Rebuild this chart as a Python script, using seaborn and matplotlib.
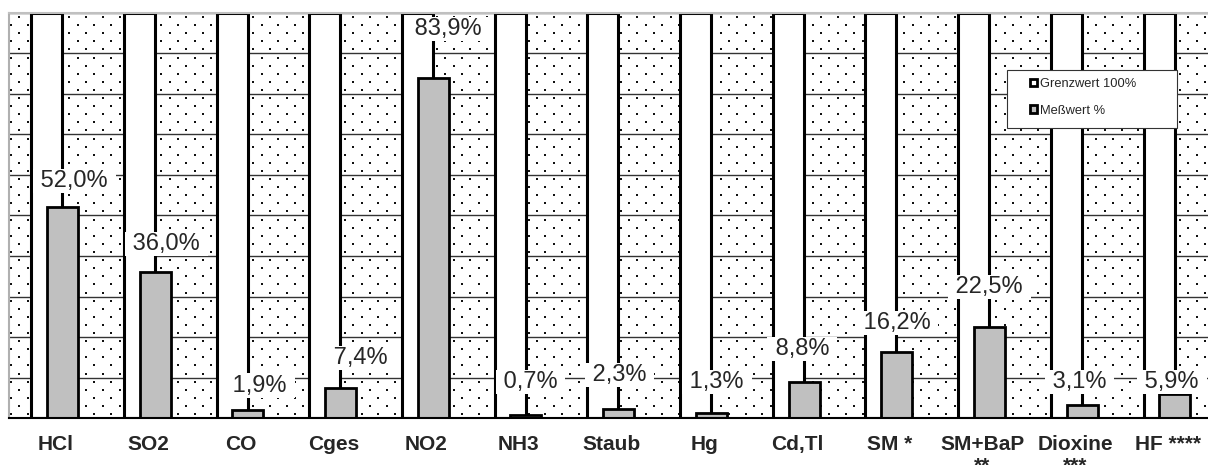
import numpy as np
import pandas as pd
import matplotlib.pyplot as plt
from matplotlib.patches import Patch, Rectangle
import seaborn as sns

# --- Data ---
categories = ["HCl", "SO2", "CO", "Cges", "NO2", "NH3", "Staub", "Hg",
              "Cd,Tl", "SM *", "SM+BaP\n**", "Dioxine\n***", "HF ****"]
grenzwert = [100, 100, 100, 100, 100, 100, 100, 100, 100, 100, 100, 100, 100]
messwert = [52.0, 36.0, 1.9, 7.4, 83.9, 0.7, 2.3, 1.3, 8.8, 16.2, 22.5, 3.1, 5.9]

# label placement (manually nudged in the original)
label_y = [58.5, 43.0, 8.0, 14.8, 96.0, 8.9, 10.6, 8.9, 17.0, 23.5, 32.3, 8.9, 8.9]
label_dx = [0.13, 0.12, 0.13, 0.22, 0.16, 0.05, 0.01, 0.06, -0.02, 0.0, 0.0, -0.03, -0.03]

GRAY = "#c0c0c0"
W = 1208
H = 465
AX_W = 1205
AX_H = 405

sns.set_style("white")
plt.rcParams["font.family"] = ["Liberation Sans", "DejaVu Sans"]

pos = np.arange(len(categories))
df_g = pd.DataFrame({"pos": pos - 0.093, "wert": grenzwert})
df_m = pd.DataFrame({"pos": pos + 0.077, "wert": messwert})

fig = plt.figure(figsize=(W / 100, H / 100), dpi=100)
ax = fig.add_axes([9 / W, 47 / H, AX_W / W, AX_H / H])

# dotted background texture (staggered dot grid, like the Excel fill)
gx, gy = np.meshgrid(np.arange(0, AX_W, 16.7), np.arange(4, AX_H, 8.1))
gx = gx + (np.arange(gy.shape[0])[:, None] % 2) * 8.35 + 2
ax.scatter(gx.ravel() / AX_W, gy.ravel() / AX_H, s=2.2, marker="s",
           color="#111111", linewidths=0, transform=ax.transAxes, zorder=0.2)

sns.barplot(data=df_g, x="pos", y="wert", native_scale=True, width=0.334,
            color="white", saturation=1, edgecolor="black", linewidth=2.2,
            errorbar=None, ax=ax, zorder=1)
sns.barplot(data=df_m, x="pos", y="wert", native_scale=True, width=0.334,
            color=GRAY, saturation=1, edgecolor="black", linewidth=2.0,
            errorbar=None, ax=ax, zorder=2)

for i, v in enumerate(messwert):
    txt = " " + f"{v:.1f}%".replace(".", ",") + " "
    ax.text(i + 0.077 + label_dx[i], label_y[i], txt, ha="center", va="center",
            fontsize=17, zorder=3,
            bbox=dict(boxstyle="square,pad=0.05", fc="white", ec="none"))

ax.set_xlim(-0.5, 12.5)
ax.set_ylim(0, 100)
ax.set_yticks(np.arange(0, 101, 10))
ax.set_yticklabels([])
ax.set_xticks(pos)
ax.set_xticklabels(categories, fontsize=15, fontweight="bold", linespacing=1.15)
ax.tick_params(axis="x", length=0, pad=12)
ax.tick_params(axis="y", length=0)
ax.set_xlabel("")
ax.set_ylabel("")
ax.set_axisbelow(True)
ax.yaxis.grid(True, color="#333333", linewidth=1.0)
ax.xaxis.grid(False)

ax.spines["left"].set_color("#b0b0b0")
ax.spines["left"].set_linewidth(1.5)
ax.spines["top"].set_color("#c0c0c0")
ax.spines["top"].set_linewidth(1.5)
ax.spines["bottom"].set_color("black")
ax.spines["bottom"].set_linewidth(1.5)
ax.spines["right"].set_visible(False)

# legend with a wide Excel-style frame
fig.add_artist(Rectangle((1007 / W, (H - 128) / H), 170 / W, 58 / H,
                         transform=fig.transFigure, facecolor="white",
                         edgecolor="#333333", linewidth=0.8, zorder=4))
handles = [Patch(facecolor="white", edgecolor="black", linewidth=2.0, label="Grenzwert 100%"),
           Patch(facecolor=GRAY, edgecolor="black", linewidth=2.0, label="Meßwert %")]
leg = fig.legend(handles=handles, loc="upper left",
                 bbox_to_anchor=(1030 / W, (H - 78) / H), frameon=False,
                 fontsize=9.3, handlelength=0.55, handleheight=0.55,
                 handletextpad=0.25, labelspacing=1.15, borderpad=0,
                 borderaxespad=0)
leg.set_zorder(5)

fig.savefig("out.png", dpi=100)
